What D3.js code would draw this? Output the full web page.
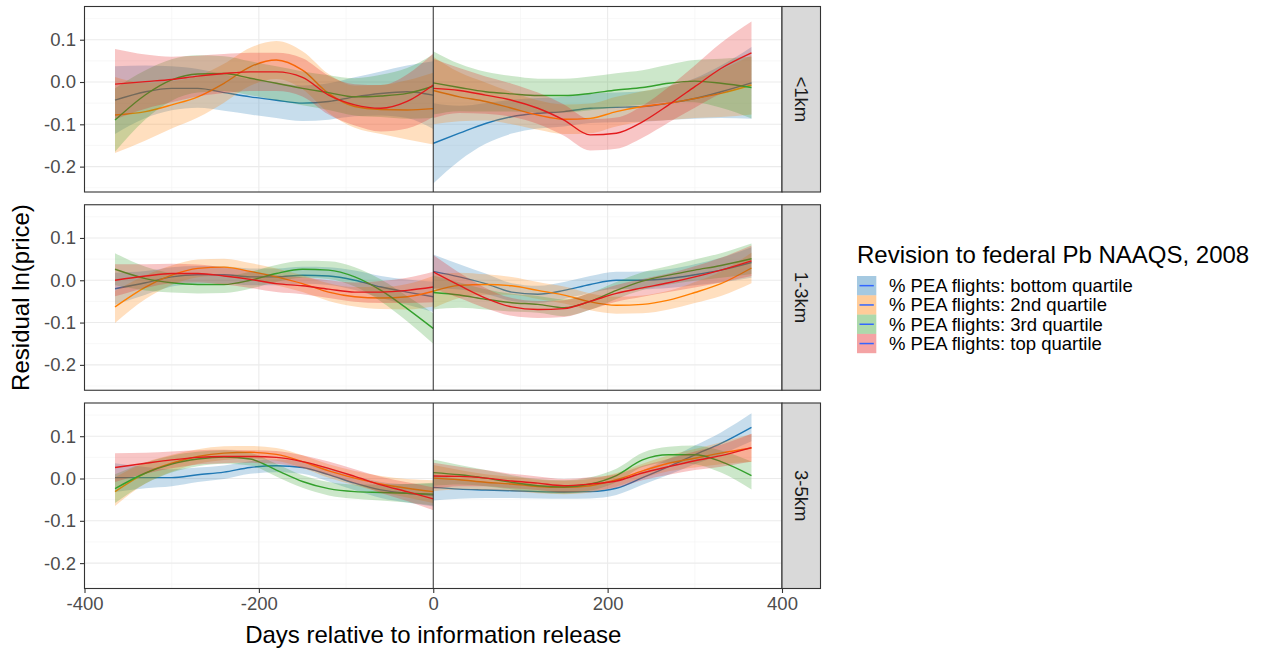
<!DOCTYPE html>
<html>
<head>
<meta charset="utf-8">
<script src="https://cdn.jsdelivr.net/npm/d3@7"></script>
<style>
  body { margin: 0; background: white; }
  svg { font-family: "Liberation Sans", Arial, sans-serif; }
</style>
</head>
<body>
<div id="chart"></div>
<script>
// days on the smoothed grid, before / after release
const daysPre = [-365, -330, -300, -270, -240, -210, -180, -150, -120, -90, -60, -30, 0];
const daysPost = [0, 30, 60, 90, 120, 150, 180, 210, 240, 270, 300, 330, 365];

const facets = ["<1km", "1-3km", "3-5km"];
const groups = [
    "% PEA flights: bottom quartile",
    "% PEA flights: 2nd quartile",
    "% PEA flights: 3rd quartile",
    "% PEA flights: top quartile"
];
const groupColors = ["#1F78B4", "#FF7F00", "#33A02C", "#E31A1C"];

const xTicks = [-400, -200, 0, 200, 400];
const yTicks = [-0.2, -0.1, 0.0, 0.1];

// fitted values, one row per quartile (bottom, 2nd, 3rd, top)
const lt1Pre = [
    [-0.043, -0.023, -0.015, -0.015, -0.025, -0.035, -0.043, -0.05, -0.046, -0.035, -0.027, -0.023, -0.031],
    [-0.078, -0.07, -0.054, -0.035, -0.003, 0.036, 0.052, 0.028, -0.027, -0.058, -0.065, -0.066, -0.063],
    [-0.09, -0.03, 0.005, 0.019, 0.02, 0.009, -0.003, -0.015, -0.025, -0.035, -0.033, -0.027, -0.01],
    [-0.005, 0.001, 0.006, 0.014, 0.02, 0.024, 0.024, 0.011, -0.031, -0.054, -0.062, -0.046, -0.007]
];
const lt1PreCi = [
    [0.08, 0.062, 0.052, 0.046, 0.043, 0.042, 0.042, 0.042, 0.043, 0.046, 0.052, 0.062, 0.08],
    [0.09, 0.068, 0.056, 0.049, 0.046, 0.045, 0.045, 0.045, 0.046, 0.05, 0.058, 0.07, 0.085],
    [0.075, 0.058, 0.049, 0.044, 0.041, 0.04, 0.04, 0.04, 0.041, 0.044, 0.05, 0.06, 0.075],
    [0.083, 0.064, 0.054, 0.048, 0.046, 0.045, 0.045, 0.045, 0.046, 0.049, 0.055, 0.064, 0.075]
];
const lt1Post = [
    [-0.145, -0.121, -0.098, -0.082, -0.074, -0.07, -0.062, -0.06, -0.058, -0.05, -0.039, -0.023, -0.002],
    [-0.02, -0.035, -0.046, -0.062, -0.078, -0.088, -0.086, -0.07, -0.058, -0.05, -0.039, -0.027, -0.007],
    [-0.002, -0.013, -0.023, -0.028, -0.032, -0.032, -0.027, -0.019, -0.013, -0.003, 0.002, -0.003, -0.013],
    [-0.015, -0.02, -0.031, -0.043, -0.062, -0.09, -0.125, -0.121, -0.094, -0.054, -0.011, 0.032, 0.069]
];
const lt1PostCi = [
    [0.095, 0.065, 0.048, 0.04, 0.036, 0.035, 0.035, 0.035, 0.036, 0.04, 0.048, 0.062, 0.085],
    [0.08, 0.058, 0.045, 0.038, 0.035, 0.035, 0.035, 0.035, 0.036, 0.04, 0.046, 0.056, 0.07],
    [0.075, 0.056, 0.047, 0.042, 0.04, 0.04, 0.04, 0.04, 0.041, 0.044, 0.05, 0.058, 0.073],
    [0.07, 0.053, 0.044, 0.039, 0.037, 0.037, 0.037, 0.037, 0.038, 0.042, 0.05, 0.06, 0.074]
];

const km13Pre = [
    [-0.02, -0.006, 0.008, 0.013, 0.013, 0.008, 0.008, 0.012, 0.01, 0, -0.016, -0.028, -0.039],
    [-0.063, -0.016, 0.012, 0.028, 0.031, 0.021, 0.008, -0.008, -0.028, -0.039, -0.042, -0.039, -0.026],
    [0.026, 0.004, -0.006, -0.01, -0.01, 0, 0.016, 0.026, 0.024, 0.008, -0.024, -0.067, -0.114],
    [0, 0.01, 0.016, 0.016, 0.01, 0.002, -0.008, -0.013, -0.021, -0.028, -0.028, -0.024, -0.016]
];
const km13PreCi = [0.038, 0.028, 0.023, 0.021, 0.02, 0.02, 0.02, 0.02, 0.021, 0.023, 0.026, 0.03, 0.036];
const km13Post = [
    [0.021, 0.008, -0.008, -0.028, -0.033, -0.024, -0.01, 0, 0, 0.004, 0.013, 0.024, 0.042],
    [-0.026, -0.012, -0.01, -0.013, -0.024, -0.035, -0.051, -0.059, -0.057, -0.047, -0.029, -0.008, 0.029],
    [-0.029, -0.035, -0.045, -0.053, -0.057, -0.065, -0.05, -0.024, -0.002, 0.012, 0.024, 0.035, 0.051],
    [0.02, -0.012, -0.042, -0.063, -0.069, -0.067, -0.05, -0.031, -0.018, -0.006, 0.008, 0.024, 0.046]
];
const km13PostCi = [0.04, 0.03, 0.024, 0.021, 0.02, 0.02, 0.02, 0.02, 0.021, 0.022, 0.025, 0.029, 0.036];

const km35Pre = [
    [0.002, 0.002, 0.002, 0.009, 0.015, 0.026, 0.03, 0.026, 0.009, -0.011, -0.027, -0.035, -0.039],
    [-0.031, 0.013, 0.036, 0.052, 0.06, 0.062, 0.057, 0.04, 0.018, 0.001, -0.013, -0.023, -0.031],
    [-0.024, 0.013, 0.034, 0.046, 0.051, 0.046, 0.02, -0.007, -0.024, -0.031, -0.033, -0.035, -0.037],
    [0.026, 0.036, 0.044, 0.05, 0.052, 0.052, 0.05, 0.04, 0.024, 0.005, -0.015, -0.031, -0.048]
];
const km35PreCi = [0.034, 0.025, 0.02, 0.017, 0.016, 0.015, 0.015, 0.015, 0.016, 0.017, 0.019, 0.022, 0.027];
const km35Post = [
    [-0.021, -0.025, -0.027, -0.029, -0.031, -0.032, -0.031, -0.023, 0.002, 0.028, 0.056, 0.083, 0.121],
    [0.001, -0.003, -0.009, -0.013, -0.019, -0.021, -0.017, -0.003, 0.018, 0.036, 0.048, 0.06, 0.072],
    [0.014, 0.009, 0.001, -0.009, -0.017, -0.02, -0.013, 0.007, 0.044, 0.056, 0.056, 0.04, 0.007],
    [0.006, 0.005, 0.001, -0.006, -0.011, -0.017, -0.013, -0.006, 0.013, 0.028, 0.042, 0.054, 0.073]
];
const km35PostCi = [0.031, 0.023, 0.019, 0.017, 0.016, 0.016, 0.016, 0.016, 0.017, 0.019, 0.022, 0.026, 0.033];

const facetFits = [
    { pre: lt1Pre, preCi: lt1PreCi, post: lt1Post, postCi: lt1PostCi },
    { pre: km13Pre, preCi: [km13PreCi, km13PreCi, km13PreCi, km13PreCi], post: km13Post, postCi: [km13PostCi, km13PostCi, km13PostCi, km13PostCi] },
    { pre: km35Pre, preCi: [km35PreCi, km35PreCi, km35PreCi, km35PreCi], post: km35Post, postCi: [km35PostCi, km35PostCi, km35PostCi, km35PostCi] }
];

function drawChart() {
    const width = 1261, height = 651;
    const panelLeft = 84.5, panelRight = 782, stripWidth = 38.5;
    const panelTops = [6.5, 204.75, 403];
    const panelHeight = 185.5;

    const svg = d3.create("svg")
        .attr("width", width)
        .attr("height", height);

    const xScale = d3.scaleLinear()
        .domain([-400, 400])
        .range([panelLeft, panelRight]);

    facets.forEach((facet, i) => {
        const top = panelTops[i];
        const yScale = d3.scaleLinear()
            .domain([-0.26, 0.1785])
            .range([top + panelHeight, top]);

        const g = svg.append("g");

        // grid, minor first
        const xMinor = [-300, -100, 100, 300];
        const yMinor = [-0.25, -0.15, -0.05, 0.05, 0.15];
        g.selectAll(".xminor").data(xMinor).enter().append("line")
            .attr("x1", d => xScale(d)).attr("x2", d => xScale(d))
            .attr("y1", top).attr("y2", top + panelHeight)
            .attr("stroke", "#F3F3F3").attr("stroke-width", 0.6);
        g.selectAll(".yminor").data(yMinor).enter().append("line")
            .attr("x1", panelLeft).attr("x2", panelRight)
            .attr("y1", d => yScale(d)).attr("y2", d => yScale(d))
            .attr("stroke", "#F3F3F3").attr("stroke-width", 0.6);
        g.selectAll(".xmajor").data(xTicks).enter().append("line")
            .attr("x1", d => xScale(d)).attr("x2", d => xScale(d))
            .attr("y1", top).attr("y2", top + panelHeight)
            .attr("stroke", "#EBEBEB").attr("stroke-width", 1.1);
        g.selectAll(".ymajor").data(yTicks).enter().append("line")
            .attr("x1", panelLeft).attr("x2", panelRight)
            .attr("y1", d => yScale(d)).attr("y2", d => yScale(d))
            .attr("stroke", "#EBEBEB").attr("stroke-width", 1.1);

        const fits = facetFits[i];
        const area = d3.area()
            .x(d => xScale(d.day))
            .y0(d => yScale(d.fit - d.ci))
            .y1(d => yScale(d.fit + d.ci))
            .curve(d3.curveMonotoneX);
        const line = d3.line()
            .x(d => xScale(d.day))
            .y(d => yScale(d.fit))
            .curve(d3.curveMonotoneX);

        [["pre", daysPre], ["post", daysPost]].forEach(([seg, days]) => {
            groups.forEach((grp, k) => {
                const rows = days.map((day, j) => ({
                    day: day,
                    fit: fits[seg][k][j],
                    ci: fits[seg + "Ci"][k][j]
                }));
                g.append("path")
                    .attr("d", area(rows))
                    .attr("fill", groupColors[k])
                    .attr("fill-opacity", 0.25);
                g.append("path")
                    .attr("d", line(rows))
                    .attr("fill", "none")
                    .attr("stroke", groupColors[k])
                    .attr("stroke-width", 1.4);
            });
        });

        // release date
        g.append("line")
            .attr("x1", xScale(0)).attr("x2", xScale(0))
            .attr("y1", top).attr("y2", top + panelHeight)
            .attr("stroke", "#333333").attr("stroke-width", 1);

        // panel border
        g.append("rect")
            .attr("x", panelLeft).attr("y", top)
            .attr("width", panelRight - panelLeft).attr("height", panelHeight)
            .attr("fill", "none").attr("stroke", "#333333").attr("stroke-width", 1.1);

        // strip
        g.append("rect")
            .attr("x", panelRight).attr("y", top)
            .attr("width", stripWidth).attr("height", panelHeight)
            .attr("fill", "#D9D9D9").attr("stroke", "#333333").attr("stroke-width", 1.1);
        g.append("text")
            .attr("transform", `translate(${panelRight + stripWidth / 2}, ${top + panelHeight / 2}) rotate(90)`)
            .attr("text-anchor", "middle")
            .attr("dominant-baseline", "central")
            .attr("font-size", 18.5)
            .attr("fill", "#1A1A1A")
            .text(facet);

        // y axis
        const yAxis = d3.axisLeft(yScale)
            .tickValues(yTicks)
            .tickSize(4.5)
            .tickPadding(4)
            .tickFormat(d3.format(".1f"));
        const ya = g.append("g")
            .attr("transform", `translate(${panelLeft},0)`)
            .call(yAxis);
        ya.select(".domain").remove();
        ya.selectAll("line").attr("stroke", "#333333").attr("stroke-width", 1.1);
        ya.selectAll("text")
            .attr("font-size", 18.5)
            .attr("fill", "#4D4D4D")
            .attr("font-family", "Liberation Sans, Arial, sans-serif")
            .text(d => d3.format(".1f")(d).replace("−", "-"));

        if (i === facets.length - 1) {
            const xAxis = d3.axisBottom(xScale)
                .tickValues(xTicks)
                .tickSize(4.5)
                .tickPadding(4)
                .tickFormat(d => String(d));
            const xa = g.append("g")
                .attr("transform", `translate(0,${top + panelHeight})`)
                .call(xAxis);
            xa.select(".domain").remove();
            xa.selectAll("line").attr("stroke", "#333333").attr("stroke-width", 1.1);
            xa.selectAll("text")
                .attr("font-size", 18.5)
                .attr("fill", "#4D4D4D")
                .attr("font-family", "Liberation Sans, Arial, sans-serif");
        }
    });

    // axis titles
    svg.append("text")
        .attr("x", (panelLeft + panelRight) / 2)
        .attr("y", 643)
        .attr("text-anchor", "middle")
        .attr("font-size", 24)
        .attr("fill", "black")
        .text("Days relative to information release");
    svg.append("text")
        .attr("transform", `translate(29, ${(panelTops[0] + panelTops[2] + panelHeight) / 2}) rotate(-90)`)
        .attr("text-anchor", "middle")
        .attr("font-size", 24)
        .attr("fill", "black")
        .text("Residual ln(price)");

    // legend
    const legend = svg.append("g").attr("transform", "translate(857, 0)");
    legend.append("text")
        .attr("x", 0).attr("y", 263)
        .attr("font-size", 24)
        .attr("fill", "black")
        .text("Revision to federal Pb NAAQS, 2008");
    const keySize = 19.3;
    groups.forEach((grp, k) => {
        const ky = 276 + k * keySize;
        legend.append("rect")
            .attr("x", 0).attr("y", ky)
            .attr("width", keySize).attr("height", keySize)
            .attr("fill", groupColors[k]).attr("fill-opacity", 0.4);
        legend.append("line")
            .attr("x1", 2.5).attr("x2", keySize - 2.5)
            .attr("y1", ky + keySize / 2).attr("y2", ky + keySize / 2)
            .attr("stroke", "#3366FF").attr("stroke-width", 1.5);
        legend.append("text")
            .attr("x", 32).attr("y", ky + keySize / 2)
            .attr("dominant-baseline", "central")
            .attr("font-size", 18.5)
            .attr("fill", "black")
            .text(grp);
    });

    d3.select("#chart").node().append(svg.node());
}

drawChart();
</script>
</body>
</html>
